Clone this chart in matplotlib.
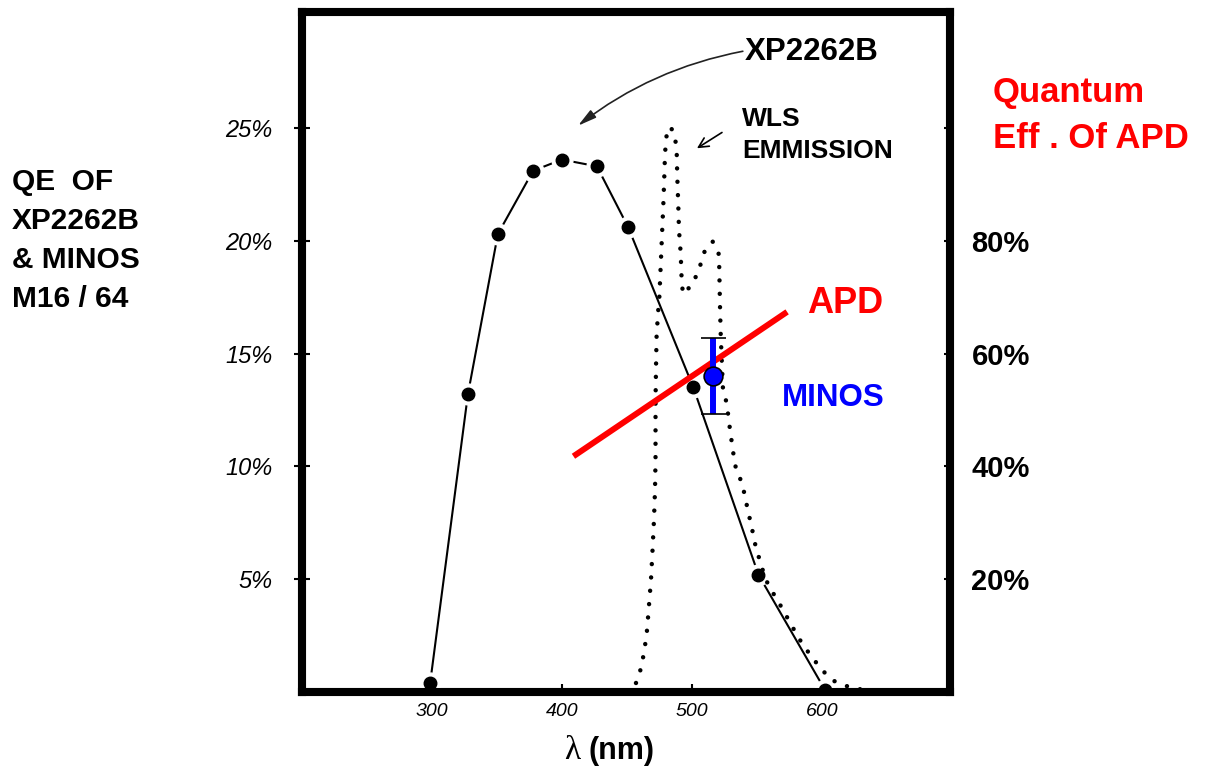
import matplotlib
matplotlib.use('Agg')
import matplotlib.pyplot as plt

# ---------------- data ----------------
# XP2262B photocathode quantum efficiency (left axis, %)
xp_wavelength = [299, 328, 351, 378, 400, 427, 451, 501, 551, 602]
xp_qe = [0.4, 13.2, 20.3, 23.1, 23.6, 23.3, 20.6, 13.5, 5.2, 0.1]

# WLS fibre emission spectrum (arbitrary units, drawn on left scale)
wls_wavelength = [457.0, 460.9, 463.5, 465.5, 467.0, 468.5, 469.7, 470.8, 471.6, 472.0,
                  472.0, 472.0, 472.4, 472.8, 473.9, 474.9, 476.0, 477.0, 478.0, 478.7,
                  479.3, 480.0, 481.0, 483.9, 486.9, 488.3, 488.7, 489.5, 490.0, 491.3,
                  492.1, 493.1, 499.8, 504.8, 510.0, 515.9, 520.7, 521.1, 521.5, 522.0,
                  522.8, 523.8, 526.6, 529.2, 533.0, 536.8, 539.9, 542.2, 546.4, 549.1,
                  552.2, 556.3, 562.2, 566.8, 573.3, 577.1, 585.2, 592.1, 596.7, 600.5,
                  609.0, 618.2, 628.2, 642.7]
wls_intensity = [0.40, 1.06, 1.86, 2.75, 3.86, 4.96, 6.29, 7.62, 8.95, 10.28,
                 11.61, 12.94, 14.49, 15.74, 16.80, 17.46, 18.93, 20.30, 21.63, 22.78,
                 23.89, 24.35, 24.99, 25.00, 24.69, 23.80, 22.83, 21.51, 20.48, 19.46,
                 18.19, 17.64, 18.04, 18.63, 19.59, 19.96, 19.39, 18.26, 17.07, 15.91,
                 14.72, 13.39, 12.81, 11.61, 10.06, 9.49, 8.87, 8.24, 7.14, 6.38,
                 5.81, 5.01, 4.39, 3.95, 3.28, 2.88, 2.08, 1.55, 1.20, 0.93,
                 0.49, 0.27, 0.13, 0.04]

# APD quantum efficiency (right axis, %)
apd_wavelength = [409, 573]
apd_qe = [41.8, 67.4]

# MINOS M16/M64 point (left axis, %)
minos_wavelength = [516.3]
minos_qe = [14.0]
minos_err = [1.67]

left_ticks = [5, 10, 15, 20, 25]
left_labels = ['5%', '10%', '15%', '20%', '25%']
right_ticks = [20, 40, 60, 80, 100]
right_labels = ['20%', '40%', '60%', '80%', '']
x_ticks = [300, 400, 500, 600]
x_labels = ['300', '400', '500', '600']

# ---------------- figure ----------------
BOLD = ['Liberation Sans', 'DejaVu Sans']
RED = '#ff0000'
BLUE = '#0000ff'

fig = plt.figure(figsize=(12.06, 7.69), dpi=100)
ax = fig.add_axes([0.2508, 0.1001, 0.5369, 0.8843])
ax.set_xlim(201, 698)
ax.set_ylim(0, 30.14)
ax2 = ax.twinx()
ax2.set_ylim(0, 120.57)

for a in (ax, ax2):
    for s in a.spines.values():
        s.set_linewidth(5.8)
        s.set_color('black')

# ticks
ax.set_xticks(x_ticks)
ax.set_xticklabels(x_labels, family=BOLD, style='italic', fontsize=14)
ax.set_yticks(left_ticks)
ax.set_yticklabels(left_labels, family=BOLD, style='italic', fontsize=17)
ax.tick_params(axis='x', direction='in', length=6, width=1.5, pad=8)
ax.tick_params(axis='y', direction='inout', length=12, width=1.5, pad=15.5, right=False)
ax2.set_yticks(right_ticks)
ax2.set_yticklabels(right_labels, family=BOLD, fontweight='bold', fontsize=21)
ax2.tick_params(axis='y', direction='in', length=4, width=1.5, pad=15.5)

# XP2262B curve: line with gaps around the hand-drawn dots
ax.plot(xp_wavelength, xp_qe, color='black', lw=1.5, zorder=2)
ax.plot(xp_wavelength, xp_qe, 'o', ms=15, color='white', mec='white', zorder=3)
ax.plot(xp_wavelength, xp_qe, 'o', ms=9, color='black', zorder=4)

# WLS emission (dotted)
ax.plot(wls_wavelength, wls_intensity, color='black', lw=3.2,
        linestyle=(0, (0.01, 3.0)), dash_capstyle='round', zorder=5)

# APD line (right-axis units)
ax.plot(apd_wavelength, apd_qe, color=RED, lw=4.3, transform=ax2.transData,
        zorder=6, solid_capstyle='butt')

# MINOS point
eb = ax.errorbar(minos_wavelength, minos_qe, yerr=minos_err, fmt='o', color=BLUE,
                 ms=13.5, mec='black', mew=1.2, elinewidth=4.3, capsize=9,
                 capthick=2.2, zorder=7)
for cap in eb[1]:
    cap.set_color('black')
    cap.set_markeredgecolor('black')
    cap.set_markerfacecolor('black')

# annotations
ax.annotate('', xy=(412.5, 25.1), xytext=(539.0, 28.4),
            arrowprops=dict(arrowstyle='-|>,head_length=0.8,head_width=0.2',
                            connectionstyle='arc3,rad=0.12', lw=1.2, color='#222222',
                            shrinkA=0, shrinkB=0, mutation_scale=14))
ax.annotate('', xy=(503.8, 24.1), xytext=(523.0, 24.8),
            arrowprops=dict(arrowstyle='->,head_length=0.5,head_width=0.25',
                            lw=1.2, color='black', shrinkA=0, shrinkB=0,
                            mutation_scale=14))

# texts
fig.text(0.6177, 0.9324, 'XP2262B', family=BOLD, fontweight='bold', fontsize=22.5,
         ha='left', va='center')
fig.text(0.6153, 0.8245, 'WLS\nEMMISSION', family=BOLD, fontweight='bold', fontsize=19,
         ha='left', va='center', linespacing=1.42)
fig.text(0.8234, 0.8492, 'Quantum\nEff . Of APD', family=BOLD, fontweight='bold',
         fontsize=25, color=RED, ha='left', va='center', linespacing=1.5)
fig.text(0.0100, 0.6879, 'QE  OF\nXP2262B\n& MINOS\nM16 / 64', family=BOLD,
         fontweight='bold', fontsize=21.5, ha='left', va='center', linespacing=1.5)
fig.text(0.6692, 0.6047, 'APD', family=BOLD, fontweight='bold', fontsize=26,
         color=RED, ha='left', va='center')
fig.text(0.6484, 0.4824, 'MINOS', family=BOLD, fontweight='bold', fontsize=22.5,
         color=BLUE, ha='left', va='center')
fig.text(0.4743, 0.0234, 'λ', family=['Liberation Serif', 'DejaVu Serif'],
         fontsize=24, ha='center', va='center')
fig.text(0.4876, 0.0234, '(nm)', family=BOLD, fontweight='bold', fontsize=22,
         ha='left', va='center')

fig.savefig('out.png', dpi=100)
